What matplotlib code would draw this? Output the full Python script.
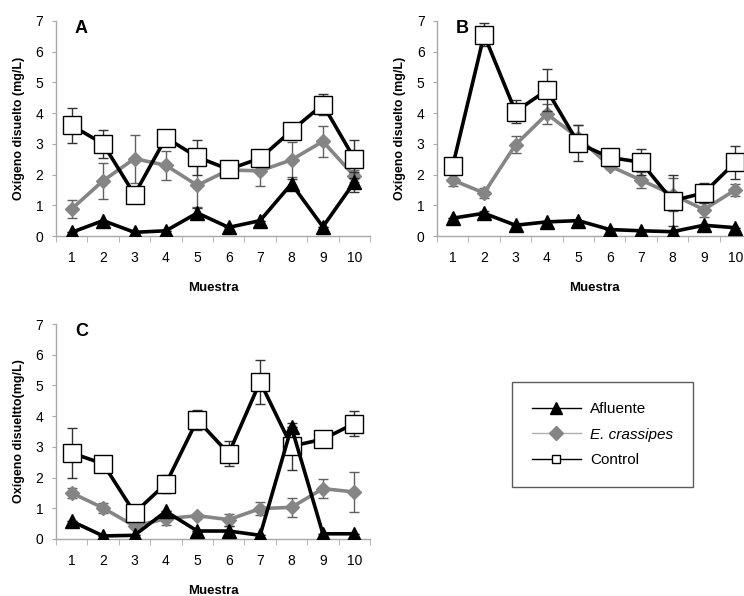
import matplotlib
matplotlib.use("Agg")
import matplotlib.pyplot as plt
from matplotlib.lines import Line2D
import numpy as np

plt.rcParams['font.family'] = ['Liberation Sans', 'DejaVu Sans']

muestras = [1, 2, 3, 4, 5, 6, 7, 8, 9, 10]
tick_labels = ['1', '2', '3', '4', '5', '6', '7', '8', '9', '10']

# Panel A
a_afluente = [0.12, 0.50, 0.12, 0.17, 0.75, 0.28, 0.50, 1.70, 0.30, 1.75]
a_afluente_err = [0.0, 0.0, 0.0, 0.0, 0.16, 0.0, 0.0, 0.15, 0.0, 0.32]
a_crassipes = [0.88, 1.80, 2.52, 2.30, 1.65, 2.15, 2.12, 2.48, 3.08, 1.95]
a_crassipes_err = [0.28, 0.58, 0.78, 0.47, 0.70, 0.10, 0.50, 0.57, 0.50, 0.20]
a_control = [3.60, 3.00, 1.35, 3.20, 2.57, 2.17, 2.53, 3.43, 4.28, 2.52]
a_control_err = [0.57, 0.45, 0.10, 0.10, 0.57, 0.10, 0.26, 0.10, 0.33, 0.62]

# Panel B
b_afluente = [0.58, 0.74, 0.35, 0.46, 0.50, 0.21, 0.17, 0.14, 0.35, 0.27]
b_afluente_err = [0.0, 0.08, 0.0, 0.0, 0.0, 0.0, 0.0, 0.0, 0.0, 0.0]
b_crassipes = [1.82, 1.40, 2.97, 3.97, 3.20, 2.28, 1.82, 1.35, 0.86, 1.50]
b_crassipes_err = [0.20, 0.15, 0.27, 0.32, 0.40, 0.10, 0.25, 0.55, 0.25, 0.20]
b_control = [2.28, 6.55, 4.05, 4.75, 3.02, 2.56, 2.40, 1.15, 1.40, 2.40]
b_control_err = [0.10, 0.37, 0.37, 0.68, 0.58, 0.15, 0.42, 0.82, 0.33, 0.53]

# Panel C
c_afluente = [0.58, 0.10, 0.12, 0.90, 0.26, 0.26, 0.12, 3.64, 0.17, 0.17]
c_afluente_err = [0.0, 0.0, 0.0, 0.0, 0.0, 0.15, 0.0, 0.0, 0.0, 0.0]
c_crassipes = [1.50, 1.01, 0.42, 0.66, 0.76, 0.63, 0.99, 1.03, 1.64, 1.53]
c_crassipes_err = [0.15, 0.15, 0.05, 0.20, 0.05, 0.20, 0.20, 0.30, 0.30, 0.65]
c_control = [2.80, 2.45, 0.85, 1.80, 3.88, 2.78, 5.12, 3.02, 3.25, 3.76]
c_control_err = [0.83, 0.26, 0.05, 0.30, 0.33, 0.40, 0.72, 0.77, 0.10, 0.42]

panel_letters = ['A', 'B', 'C']
ylabels = ['Oxígeno disuelto (mg/L)', 'Oxígeno disuelto (mg/L)', 'Oxígeno disueltto(mg/L)']
xlabel = 'Muestra'
series_names = ['Afluente', 'E. crassipes', 'Control']

panels = [
    (a_afluente, a_afluente_err, a_crassipes, a_crassipes_err, a_control, a_control_err),
    (b_afluente, b_afluente_err, b_crassipes, b_crassipes_err, b_control, b_control_err),
    (c_afluente, c_afluente_err, c_crassipes, c_crassipes_err, c_control, c_control_err),
]

W, H = 744, 596
fig = plt.figure(figsize=(W / 100, H / 100), dpi=100)

def rect(l, r, t, b):
    return [l / W, 1 - b / H, (r - l) / W, (b - t) / H]

positions = [rect(56, 370, 21, 236), rect(437, 751, 21, 236), rect(56, 370, 324, 539)]

gray = '#858585'
spine_col = '#a8a8a8'

for i, (pos, data) in enumerate(zip(positions, panels)):
    af, afe, cr, cre, co, coe = data
    ax = fig.add_axes(pos)
    x = np.array(muestras)
    ax.errorbar(x, cr, yerr=cre, color=gray, lw=2.6, marker='D', ms=7.5,
                mfc=gray, mec=gray, ecolor='#606060', elinewidth=1.0,
                capsize=3.5, capthick=1.0, zorder=2)
    ax.errorbar(x, co, yerr=coe, color='black', lw=2.6, marker='s', ms=13,
                mfc='white', mec='black', mew=1.0, ecolor='#333333',
                elinewidth=1.0, capsize=3.5, capthick=1.0, zorder=3)
    ax.errorbar(x, af, yerr=afe, color='black', lw=2.6, marker='^', ms=10,
                mfc='black', mec='black', ecolor='#333333', elinewidth=1.0,
                capsize=3.5, capthick=1.0, zorder=4)

    ax.set_xlim(0.5, 10.5)
    ax.set_ylim(0, 7)
    ax.set_yticks(range(0, 8))
    ax.set_yticklabels([str(v) for v in range(0, 8)], fontsize=10)
    ax.set_xticks(muestras)
    ax.set_xticklabels(tick_labels, fontsize=10)
    ax.set_xticks(np.arange(0.5, 11, 1.0), minor=True)
    ax.tick_params(axis='x', which='major', length=0, pad=11)
    ax.tick_params(axis='x', which='minor', length=4, color=spine_col, direction='out')
    ax.tick_params(axis='y', length=3, color=spine_col, direction='out', pad=6)
    for s in ['top', 'right']:
        ax.spines[s].set_visible(False)
    for s in ['left', 'bottom']:
        ax.spines[s].set_color(spine_col)
        ax.spines[s].set_linewidth(1.0)
    ax.set_facecolor('none')
    ax.set_ylabel(ylabels[i], fontsize=9, fontweight='bold', labelpad=8)
    ax.set_xlabel(xlabel, fontsize=9.5, fontweight='bold', labelpad=12)
    ax.text(0.06, 0.965, panel_letters[i], transform=ax.transAxes,
            fontsize=13, fontweight='bold', va='center', ha='left')

handles = [
    Line2D([], [], color='black', lw=1.0, marker='^', ms=8, mfc='black', mec='black'),
    Line2D([], [], color='#b0b0b0', lw=1.0, marker='D', ms=7, mfc=gray, mec=gray),
    Line2D([], [], color='black', lw=1.0, marker='s', ms=6, mfc='white', mec='black'),
]
labels = ['Afluente', 'E. crassipes', 'Control']
leg = fig.legend(handles, labels, loc='center',
                 bbox_to_anchor=((512 + 693) / 2 / W, 1 - (382 + 487) / 2 / H),
                 fontsize=11, frameon=True, fancybox=False, handlelength=3.2,
                 labelspacing=0.75, borderpad=1.3, handletextpad=0.6,
                 borderaxespad=0)
leg.get_frame().set_edgecolor('#333333')
leg.get_frame().set_linewidth(1.0)
leg.get_texts()[1].set_fontstyle('italic')

fig.savefig('out.png', dpi=100)
